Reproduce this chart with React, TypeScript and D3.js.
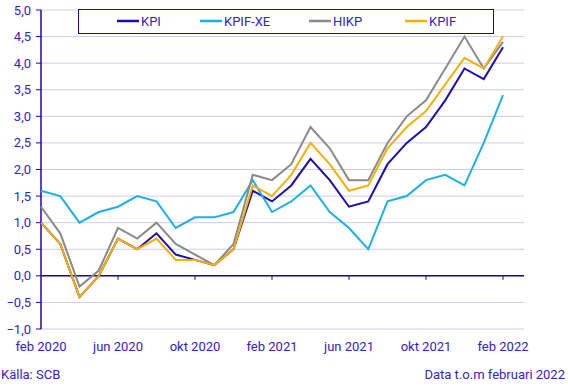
import React from "react";
import * as d3 from "d3";

const months = [
  "feb 2020", "mar 2020", "apr 2020", "maj 2020", "jun 2020", "jul 2020", "aug 2020",
  "sep 2020", "okt 2020", "nov 2020", "dec 2020", "jan 2021", "feb 2021", "mar 2021",
  "apr 2021", "maj 2021", "jun 2021", "jul 2021", "aug 2021", "sep 2021", "okt 2021",
  "nov 2021", "dec 2021", "jan 2022", "feb 2022",
];

const kpi = [1.0, 0.6, -0.4, 0.0, 0.7, 0.5, 0.8, 0.4, 0.3, 0.2, 0.5, 1.6, 1.4, 1.7, 2.2, 1.8, 1.3, 1.4, 2.1, 2.5, 2.8, 3.3, 3.9, 3.7, 4.3];
const kpifXe = [1.6, 1.5, 1.0, 1.2, 1.3, 1.5, 1.4, 0.9, 1.1, 1.1, 1.2, 1.8, 1.2, 1.4, 1.7, 1.2, 0.9, 0.5, 1.4, 1.5, 1.8, 1.9, 1.7, 2.5, 3.4];
const hikp = [1.3, 0.8, -0.2, 0.1, 0.9, 0.7, 1.0, 0.6, 0.4, 0.2, 0.6, 1.9, 1.8, 2.1, 2.8, 2.4, 1.8, 1.8, 2.5, 3.0, 3.3, 3.9, 4.5, 3.9, 4.4];
const kpif = [1.0, 0.6, -0.4, 0.0, 0.7, 0.5, 0.7, 0.3, 0.3, 0.2, 0.5, 1.7, 1.5, 1.9, 2.5, 2.1, 1.6, 1.7, 2.4, 2.8, 3.1, 3.6, 4.1, 3.9, 4.5];

const yTicks = [-1, -0.5, 0, 0.5, 1, 1.5, 2, 2.5, 3, 3.5, 4, 4.5, 5];
const xLabelIdx = [0, 4, 8, 12, 16, 20, 24];

const series = [
  { name: "KPI", values: kpi, color: "#1f0cb0" },
  { name: "KPIF-XE", values: kpifXe, color: "#1cb0e8" },
  { name: "HIKP", values: hikp, color: "#8a8a8a" },
  { name: "KPIF", values: kpif, color: "#f5b000" },
];

const textColor = "#3322cc";
const axisColor = "#2200b0";
const gridColor = "#ccccf0";
const font = "Roboto, 'DejaVu Sans', sans-serif";

export default function App() {
  const width = 568;
  const height = 389;

  const x = d3.scaleLinear().domain([0, 25]).range([41, 522.25]);
  const y = d3.scaleLinear().domain([-1, 5]).range([329, 10]);

  const line = d3
    .line<number>()
    .x((_d, i) => x(i))
    .y((d) => y(d));

  const legendX = [117, 200, 309, 405];

  return (
    <svg
      width={width}
      height={height}
      style={{ position: "absolute", left: 0, top: 0, display: "block" }}
      fontFamily={font}
    >
      {/* grid */}
      {yTicks.map((t) => (
        <line
          key={"g" + t}
          x1={x(0)}
          x2={524}
          y1={y(t)}
          y2={y(t)}
          stroke={gridColor}
          strokeWidth={1}
        />
      ))}

      {/* y axis */}
      <line x1={x(0)} x2={x(0)} y1={y(5)} y2={y(-1)} stroke={axisColor} strokeWidth={1.5} />
      {yTicks.map((t) => (
        <g key={"y" + t}>
          <line x1={x(0) - 5} x2={x(0)} y1={y(t)} y2={y(t)} stroke={axisColor} strokeWidth={1} />
          <text
            x={31}
            y={y(t)}
            dy="0.35em"
            textAnchor="end"
            fontSize={13}
            fill={textColor}
          >
            {d3.format(".1f")(t).replace(".", ",").replace("-", "-")}
          </text>
        </g>
      ))}

      {/* x axis at zero */}
      <line x1={x(0)} x2={524} y1={y(0)} y2={y(0)} stroke={axisColor} strokeWidth={1.5} />
      {xLabelIdx.map((i) => (
        <g key={"x" + i}>
          {i > 0 && (
            <line x1={x(i)} x2={x(i)} y1={y(0)} y2={y(0) + 4} stroke={axisColor} strokeWidth={1} />
          )}
          <text x={x(i)} y={351} textAnchor="middle" fontSize={13} fill={textColor}>
            {months[i]}
          </text>
        </g>
      ))}

      {/* lines */}
      {series.map((s) => (
        <path
          key={s.name}
          d={line(s.values) || ""}
          fill="none"
          stroke={s.color}
          strokeWidth={2}
          strokeLinejoin="miter"
        />
      ))}

      {/* legend */}
      <rect x={78.5} y={9.5} width={415} height={24} fill="#fff" stroke={axisColor} strokeWidth={1} />
      {series.map((s, i) => (
        <g key={"l" + s.name}>
          <line
            x1={legendX[i]}
            x2={legendX[i] + 22}
            y1={21}
            y2={21}
            stroke={s.color}
            strokeWidth={2.5}
          />
          <text x={legendX[i] + 24} y={21} dy="0.35em" fontSize={13} fill={textColor}>
            {s.name}
          </text>
        </g>
      ))}

      {/* footer */}
      <text x={1} y={379} fontSize={13} fill={textColor}>
        Källa: SCB
      </text>
      <text x={565} y={379} textAnchor="end" fontSize={13} fill={textColor}>
        Data t.o.m februari 2022
      </text>
    </svg>
  );
}
